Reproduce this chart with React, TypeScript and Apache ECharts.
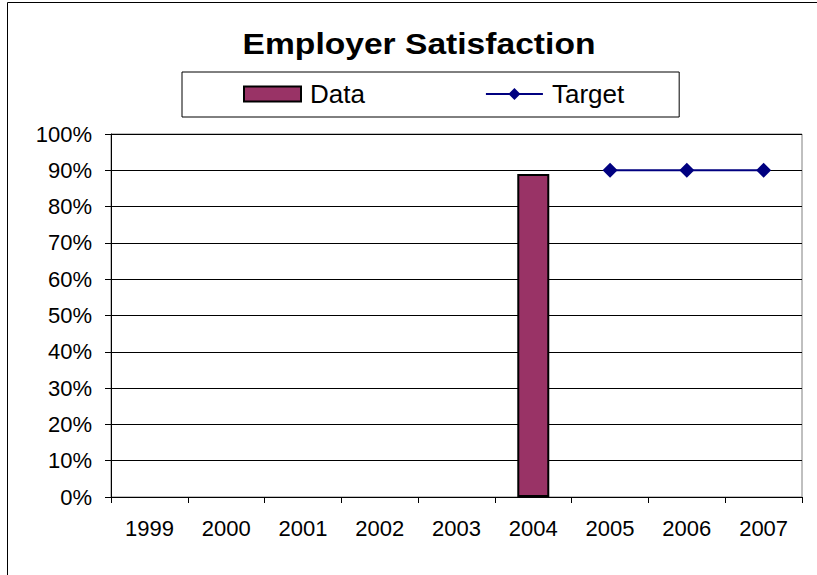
import React, { useEffect, useRef } from "react";
import * as echarts from "echarts";

const categories = ["1999", "2000", "2001", "2002", "2003", "2004", "2005", "2006", "2007"];
const dataValues: (number | null)[] = [null, null, null, null, null, 0.89, null, null, null];
const targetValues: (number | null)[] = [null, null, null, null, null, null, 0.9, 0.9, 0.9];
const titleText = "Employer Satisfaction";

export default function App() {
  const ref = useRef<HTMLDivElement>(null);
  useEffect(() => {
    if (!ref.current) return;
    const chart = echarts.init(ref.current, undefined, { renderer: "svg" });
    const font = "Liberation Sans, Arial, sans-serif";
    chart.setOption({
      animation: false,
      backgroundColor: "#ffffff",
      textStyle: { fontFamily: font, color: "#000" },
      graphic: [
        {
          type: "line",
          shape: { x1: 7.5, y1: 2.5, x2: 7.5, y2: 575 },
          style: { stroke: "#000", lineWidth: 1 },
          silent: true,
        },
        {
          type: "line",
          shape: { x1: 7.5, y1: 2.5, x2: 817, y2: 2.5 },
          style: { stroke: "#000", lineWidth: 1 },
          silent: true,
        },
        {
          type: "text",
          x: 419,
          y: 44,
          scaleX: 1.12,
          style: {
            text: titleText,
            fontFamily: font,
            fontSize: 30,
            fontWeight: "bold",
            fill: "#000",
            textAlign: "center",
            textVerticalAlign: "middle",
          },
        },
      ],
      legend: {
        left: 182,
        top: 72,
        orient: "horizontal",
        padding: [9, 55, 10, 61],
        itemGap: 120,
        itemWidth: 57,
        itemHeight: 15,
        borderColor: "#000",
        borderWidth: 1,
        borderRadius: 0,
        textStyle: { fontFamily: font, fontSize: 26, color: "#000", lineHeight: 25, padding: [0, 0, 0, 4] },
        data: [{ name: "Data", icon: "rect" }, { name: "Target" }],
      },
      grid: {
        left: 111,
        top: 134,
        right: 15,
        bottom: 78,
        show: true,
        borderColor: "#808080",
        borderWidth: 1,
        backgroundColor: "transparent",
      },
      xAxis: {
        type: "category",
        data: categories,
        boundaryGap: true,
        axisLine: { lineStyle: { color: "#000", width: 1 } },
        axisTick: { show: true, alignWithLabel: false, inside: false, length: 6, lineStyle: { color: "#000" } },
        axisLabel: { fontFamily: font, fontSize: 22, color: "#000", margin: 20, interval: 0 },
        splitLine: { show: false },
      },
      yAxis: {
        type: "value",
        min: 0,
        max: 1,
        interval: 0.1,
        axisLine: { show: true, lineStyle: { color: "#000", width: 1 } },
        axisTick: { show: true, inside: false, length: 6, lineStyle: { color: "#000" } },
        axisLabel: {
          fontFamily: font,
          fontSize: 22,
          color: "#000",
          margin: 19,
          formatter: (v: number) => Math.round(v * 100) + "%",
        },
        splitLine: { show: true, lineStyle: { color: "#000", width: 1 } },
      },
      series: [
        {
          name: "Data",
          type: "bar",
          data: dataValues,
          barWidth: 32,
          itemStyle: { color: "#993366", borderColor: "#000", borderWidth: 2 },
        },
        {
          name: "Target",
          type: "line",
          data: targetValues,
          symbol: "diamond",
          symbolSize: 15,
          showAllSymbol: true,
          lineStyle: { color: "#000080", width: 2 },
          itemStyle: { color: "#000080" },
          connectNulls: false,
        },
      ],
    });
    return () => chart.dispose();
  }, []);
  return (
    <div
      ref={ref}
      style={{ position: "fixed", left: 0, top: 0, width: 817, height: 575 }}
    />
  );
}
